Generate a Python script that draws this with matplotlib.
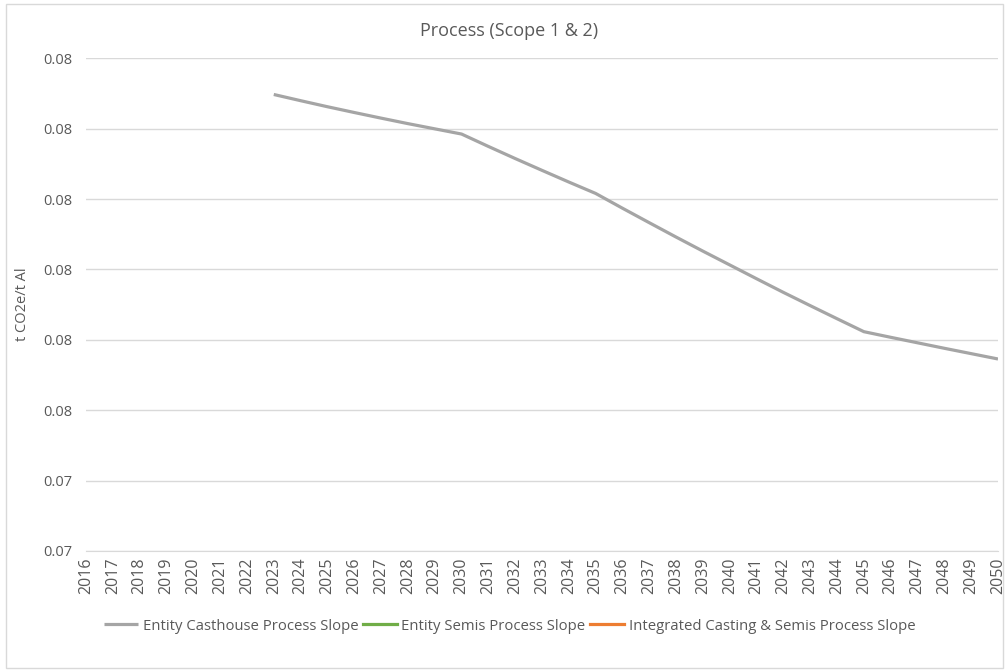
import matplotlib
matplotlib.use("Agg")
import matplotlib.pyplot as plt
import matplotlib.patches as mpatches
import numpy as np

# categories (years) and series
years = list(range(2016, 2051))
casthouse = [None] * 7 + [
    0.077243, 0.077199, 0.077156, 0.077115, 0.077075, 0.077036, 0.076999, 0.076962,
    0.076874, 0.076788, 0.076704, 0.076621, 0.076540,
    0.076435, 0.076332, 0.076230, 0.076130, 0.076032,
    0.075934, 0.075837, 0.075743, 0.075650, 0.075558,
    0.075518, 0.075479, 0.075440, 0.075402, 0.075364,
]
semis = [None] * len(years)
integrated = [None] * len(years)

y_ticks = [0.0740, 0.0745, 0.0750, 0.0755, 0.0760, 0.0765, 0.0770, 0.0775]

text_color = "#595959"
plt.rcParams["font.family"] = ["Open Sans", "DejaVu Sans"]

fig = plt.figure(figsize=(10.05, 6.7), dpi=100)
ax = fig.add_axes([86 / 1005, 1 - 551 / 670, (998 - 86) / 1005, (551 - 58.3) / 670])

x = np.arange(len(years))
to_arr = lambda s: np.array([np.nan if v is None else v for v in s], dtype=float)
ax.plot(x, to_arr(casthouse), color="#A5A5A5", lw=2.3, solid_capstyle="butt",
        label="Entity Casthouse Process Slope")
ax.plot(x, to_arr(semis), color="#70AD47", lw=2.3, label="Entity Semis Process Slope")
ax.plot(x, to_arr(integrated), color="#ED7D31", lw=2.3,
        label="Integrated Casting & Semis Process Slope")

ax.set_xlim(0, len(years) - 1)
ax.set_ylim(y_ticks[0], y_ticks[-1])
ax.set_yticks(y_ticks)
ax.set_yticklabels([f"{round(v + 1e-9, 2):.2f}" for v in y_ticks])
ax.set_xticks(x)
ax.set_xticklabels([str(y) for y in years], rotation=90)
ax.grid(axis="y", color="#D9D9D9", lw=1)
ax.set_axisbelow(True)
for s in ["top", "right", "left"]:
    ax.spines[s].set_visible(False)
ax.spines["bottom"].set_color("#D9D9D9")
ax.tick_params(axis="both", length=0, colors=text_color)
ax.tick_params(axis="y", pad=10, labelsize=10.5)
ax.tick_params(axis="x", pad=5, labelsize=11.5)

ax.set_ylabel("t CO2e/t Al", color=text_color, fontsize=10.5, labelpad=9)

fig.text(0.507, 1 - 31 / 670, "Process (Scope 1 & 2)", ha="center", va="center",
         fontsize=13, color=text_color)

fig.legend(loc="center", bbox_to_anchor=(0.507, 1 - 626 / 670), ncol=3, frameon=False,
           fontsize=10.7, labelcolor=text_color, handlelength=2.3, handletextpad=0.3,
           columnspacing=0.3)

fig.patches.append(mpatches.Rectangle((6 / 1005, 2 / 670), 997 / 1005, 664 / 670,
                                      transform=fig.transFigure, fill=False,
                                      edgecolor="#D9D9D9", lw=1))

fig.savefig("out.png", dpi=100, facecolor="white")
